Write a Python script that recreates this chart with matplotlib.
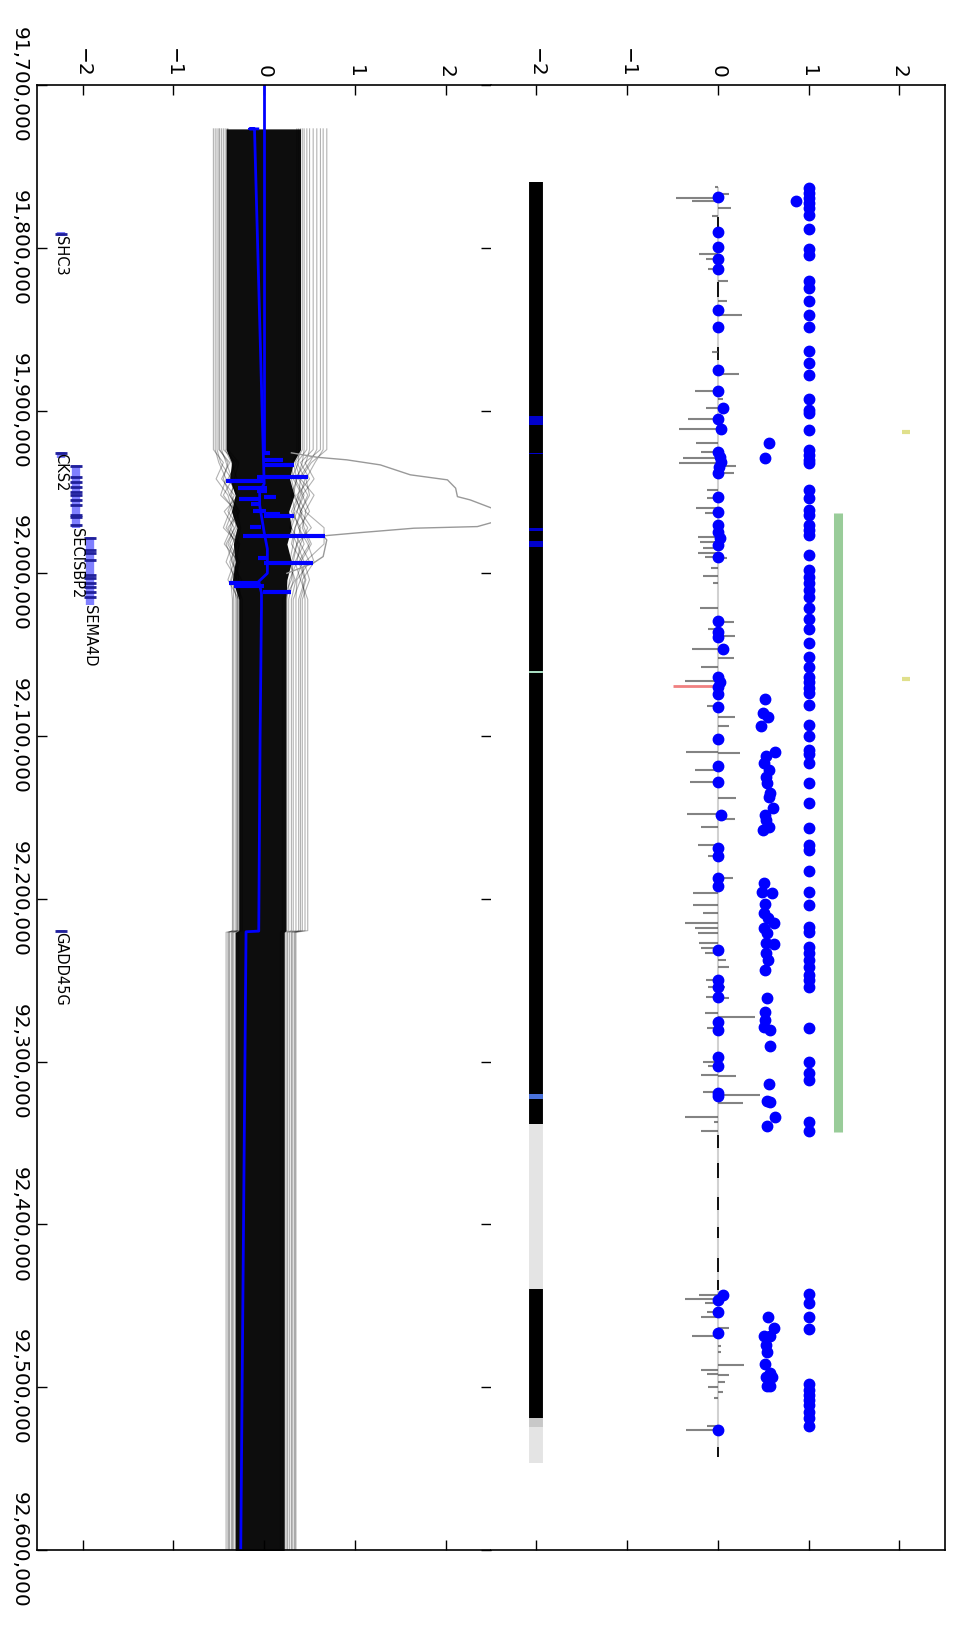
import matplotlib
matplotlib.use("Agg")
import matplotlib.pyplot as plt
from matplotlib.ticker import FuncFormatter

# axis ticks
pos_ticks = [91700000, 91800000, 91900000, 92000000, 92100000,
             92200000, 92300000, 92400000, 92500000, 92600000]
val_ticks = [-2, -1, 0, 1, 2]

# ---------------- left panel: sampled trajectories ----------------
traj_knots = [91727000, 91924000, 91932000, 91942000, 91952000, 91962000, 91972000,
              91982000, 91993000, 92004000, 92016000, 92219500, 92220500, 92610000]
# dense core of the bundle
core_lo = [-0.42, -0.42, -0.36, -0.38, -0.32, -0.36, -0.30, -0.34, -0.32, -0.35,
           -0.28, -0.28, -0.32, -0.32]
core_hi = [0.40, 0.40, 0.32, 0.28, 0.33, 0.27, 0.30, 0.25, 0.30, 0.25,
           0.24, 0.24, 0.22, 0.22]
# fringe trajectories: upper level, 8 values in the wiggle, middle level, lower level
fringe = [
    [-0.56, -0.45, -0.53, -0.40, -0.35, -0.42, -0.30, -0.38, -0.33, -0.34, -0.40],
    [-0.54, -0.50, -0.42, -0.48, -0.30, -0.36, -0.44, -0.28, -0.36, -0.30, -0.42],
    [-0.50, -0.38, -0.47, -0.33, -0.40, -0.28, -0.35, -0.42, -0.30, -0.32, -0.38],
    [-0.47, -0.42, -0.35, -0.45, -0.32, -0.38, -0.27, -0.33, -0.40, -0.28, -0.36],
    [-0.45, -0.30, -0.40, -0.28, -0.44, -0.33, -0.40, -0.30, -0.28, -0.26, -0.34],
    [-0.43, -0.36, -0.30, -0.38, -0.27, -0.40, -0.32, -0.36, -0.25, -0.30, -0.32],
    [-0.41, -0.33, -0.38, -0.30, -0.35, -0.30, -0.38, -0.27, -0.32, -0.24, -0.30],
    [-0.40, -0.28, -0.33, -0.36, -0.30, -0.26, -0.30, -0.34, -0.28, -0.27, -0.28],
    [-0.52, -0.48, -0.36, -0.30, -0.38, -0.45, -0.28, -0.30, -0.37, -0.35, -0.39],
    [-0.49, -0.40, -0.45, -0.38, -0.28, -0.32, -0.42, -0.35, -0.30, -0.29, -0.35],
    [0.69, 0.52, 0.40, 0.55, 0.45, 0.66, 0.66, 0.45, 0.40, 0.48, 0.35],
    [0.62, 0.45, 0.55, 0.42, 0.50, 0.38, 0.48, 0.55, 0.42, 0.45, 0.33],
    [0.58, 0.50, 0.38, 0.48, 0.40, 0.52, 0.36, 0.44, 0.50, 0.42, 0.31],
    [0.54, 0.40, 0.50, 0.36, 0.46, 0.42, 0.50, 0.38, 0.45, 0.38, 0.30],
    [0.50, 0.46, 0.34, 0.44, 0.36, 0.48, 0.40, 0.50, 0.36, 0.35, 0.28],
    [0.47, 0.36, 0.45, 0.40, 0.32, 0.38, 0.44, 0.34, 0.40, 0.32, 0.26],
    [0.44, 0.42, 0.36, 0.32, 0.42, 0.34, 0.30, 0.42, 0.35, 0.30, 0.25],
    [0.42, 0.34, 0.40, 0.38, 0.30, 0.40, 0.36, 0.30, 0.32, 0.27, 0.23],
    [0.40, 0.30, 0.32, 0.42, 0.36, 0.30, 0.40, 0.36, 0.28, 0.25, 0.22],
    [0.38, 0.38, 0.30, 0.34, 0.40, 0.34, 0.32, 0.28, 0.34, 0.22, 0.20],
    [0.65, 0.56, 0.46, 0.50, 0.40, 0.44, 0.52, 0.40, 0.46, 0.40, 0.34],
    [0.36, 0.32, 0.36, 0.30, 0.34, 0.28, 0.36, 0.32, 0.30, 0.20, 0.18],
]
# one trajectory that leaves the bundle
exc_pos = [91926000, 91928700, 91930300, 91933400, 91939500, 91942600, 91947700,
           91952900, 91954900, 91960000, 91964000, 91968800, 91971300, 91972300,
           91975000, 91977000, 91979500, 91989700, 91993800, 92000000]
exc_val = [0.30, 0.58, 0.91, 1.28, 1.61, 2.02, 2.11, 2.13, 2.27, 2.51, 2.70, 2.51,
           2.35, 1.65, 1.06, 0.65, 0.69, 0.65, 0.54, 0.25]

# blue mean
mean0_pos = [91700000, 91926000]
mean0_val = [0.0, 0.0]
mean_pos = [91727000, 91727000, 91727000, 91926000, 91945000, 91950000, 91958000,
            91975000, 91985000, 92000000, 92005000, 92012000, 92020000, 92100000,
            92219800, 92220200, 92610000]
mean_val = [-0.07, -0.16, -0.107, -0.01, 0.0, -0.05, -0.05, 0.0, 0.035, 0.035,
            -0.06, -0.03, -0.03, -0.045, -0.06, -0.2, -0.26]
spike_pos = [91925800, 91930700, 91933600, 91940600, 91943000, 91947700, 91949400,
             91953300, 91954500, 91957300, 91961700, 91963500, 91964700, 91971700,
             91977000, 91990900, 91993400, 92005700, 92007700, 92011200]
spike_lo = [-0.015, 0.0, 0.0, -0.082, -0.42, -0.29, -0.082, 0.0, -0.28, -0.144,
            -0.126, 0.0, 0.0, -0.155, -0.237, -0.07, 0.0, -0.384, -0.33, -0.015]
spike_hi = [0.059, 0.207, 0.324, 0.483, 0.0, 0.03, 0.03, 0.125, -0.052, -0.033,
            0.015, 0.17, 0.324, -0.033, 0.668, 0.022, 0.539, -0.052, 0.0, 0.30]

# genes
gene_names = ["SHC3", "CKS2", "SECISBP2", "SEMA4D", "GADD45G"]
gene_start = [91790500, 91925600, 91933400, 91977500, 92219000]
gene_end = [91793000, 91929300, 91972100, 92019400, 92220500]
gene_level = [-2.24, -2.24, -2.07, -1.92, -2.24]
gene_label_pos = [91793000, 91926000, 91972100, 92019400, 92220500]
exons = [
    [91791500],
    [91926000],
    [91934000, 91940600, 91943700, 91946700, 91949800, 91951800, 91954900,
     91958000, 91964100, 91965200, 91970300],
    [91978100, 91985600, 91987700, 91991800, 92001000, 92003000, 92006100,
     92008200, 92011300, 92014300],
    [92219500],
]

# ---------------- right panel ----------------
band_start = [91759400, 92338300, 92439900, 92518800, 92524700,
              91903400, 91925800, 91971900, 91980000, 92059800, 92320100]
band_end = [92338300, 92439900, 92518800, 92524700, 92546400,
            91909200, 91927000, 91973800, 91983800, 92061400, 92323000]
band_color = ["black", "#e4e4e4", "black", "#c8c8c8", "#e4e4e4",
              "#0000cc", "#0000cc", "#0000cc", "#0000cc", "#a8dcc0", "#4a72dc"]
band_level = -2.0

hi_pos = [91763400, 91766500, 91769600, 91772600, 91775700, 91780200, 91788600,
          91800700, 91804400, 91820200, 91824800, 91832600, 91841200, 91848400,
          91863500, 91870600, 91878100, 91893000, 91899600, 91901600, 91911900,
          91924200, 91927300, 91930300, 91932400, 91948800, 91953900, 91961100,
          91964100, 91970300, 91973300, 91976400, 91988700, 91997900, 92002000,
          92006100, 92010200, 92014300, 92021500, 92028200, 92034400, 92042600,
          92051600, 92057300, 92063900, 92066600, 92070600, 92073700, 92080900,
          92093200, 92099900, 92108500, 92111000, 92116700, 92129000, 92141300,
          92156600, 92166900, 92170000, 92182700, 92195600, 92203800, 92217100,
          92220200, 92229400, 92233400, 92237500, 92241700, 92246800, 92249800,
          92253900, 92279500, 92300000, 92307200, 92311300, 92336900, 92342400,
          92442900, 92448500, 92456700, 92464100, 92498200, 92501700, 92504800,
          92507900, 92511000, 92515100, 92519100, 92523900, 91771000]
hi_val = [1.0] * 89 + [0.86]

mid_pos = [91920100, 91929300, 92077400, 92086000, 92088400, 92093800, 92109600,
           92112200, 92116300, 92120800, 92124900, 92128600, 92135100, 92137600,
           92144300, 92148500, 92151500, 92155600, 92157700, 92190400, 92196000,
           92196200, 92203100, 92208900, 92211900, 92215000, 92218100, 92221100,
           92227700, 92227300, 92233000, 92237500, 92243700, 92261100, 92269300,
           92274400, 92278500, 92280600, 92290200, 92313700, 92324000, 92324500,
           92333800, 92339300, 92456700, 92463500, 92468600, 92468600, 92474100,
           92478200, 92485800, 92491100, 92493600, 92493600, 92499300, 92499300]
mid_val = [0.559, 0.52, 0.515, 0.493, 0.551, 0.478, 0.625, 0.529, 0.504, 0.559,
           0.533, 0.540, 0.577, 0.559, 0.603, 0.515, 0.529, 0.566, 0.496, 0.511,
           0.485, 0.596, 0.522, 0.504, 0.551, 0.614, 0.504, 0.540, 0.614, 0.529,
           0.529, 0.551, 0.515, 0.540, 0.522, 0.515, 0.504, 0.577, 0.577, 0.566,
           0.54, 0.577, 0.625, 0.54, 0.551, 0.614, 0.504, 0.577, 0.529, 0.54,
           0.522, 0.577, 0.529, 0.596, 0.54, 0.577]

zero_pos = [91768600, 91790100, 91799700, 91807000, 91813200, 91838200, 91848400,
            91875000, 91887800, 91898600, 91905300, 91911500, 91925200, 91928300,
            91931400, 91934500, 91938100, 91952900, 91962100, 91970300, 91974400,
            91978500, 91982600, 91989800, 92029100, 92035800, 92038900, 92046600,
            92063900, 92066500, 92070000, 92074100, 92082300, 92101900, 92118200,
            92128000, 92148500, 92168900, 92173600, 92187300, 92192100, 92231400,
            92249800, 92253900, 92260100, 92275400, 92280500, 92297300, 92302700,
            92319100, 92321000, 92443400, 92446400, 92453600, 92466500, 92526300]
zero_val = [0, 0, 0, 0, 0, 0, 0, 0, 0, 0.06, 0, 0.03, 0, 0.02, 0.03, 0.01, 0, 0, 0,
            0, 0, 0.02, 0, 0, 0, 0, 0, 0.06, 0, 0.02, 0, 0, 0, 0, 0, 0, 0.04, 0, 0,
            0, 0, 0, 0, 0, 0, 0, 0, 0, 0, 0, 0, 0.06, 0, 0, 0, 0]

stem_pos = [91763000, 91766900, 91769600, 91771600, 91775700, 91780400, 91804000,
            91807000, 91813200, 91820400, 91832600, 91841400, 91863800, 91877500,
            91887800, 91893000, 91898600, 91905300, 91911100, 91920100, 91925200,
            91929300, 91932400, 91934000, 91938100, 91948800, 91953500, 91960000,
            91963100, 91977500, 91980500, 91984600, 91987700, 91990100, 91990600,
            91996900, 92001600, 92006100, 92021500, 92029700, 92034400, 92038500,
            92046600, 92052200, 92057300, 92065900, 92081500, 92088400, 92093800,
            92109900, 92110400, 92120800, 92128000, 92138200, 92147800, 92151100,
            92156000, 92166900, 92173600, 92187300, 92196200, 92203800, 92208900,
            92215000, 92218100, 92221100, 92227300, 92230400, 92233400, 92237500,
            92241700, 92249800, 92253900, 92254400, 92260100, 92260600, 92269900,
            92272400, 92279500, 92300000, 92302700, 92308200, 92308700, 92318500,
            92320500, 92325200, 92333800, 92336900, 92342400, 92443400, 92443900,
            92446000, 92448100, 92453600, 92456700, 92463800, 92468600, 92474700,
            92478200, 92486400, 92489500, 92491900, 92492400, 92496600, 92500100,
            92502700, 92506800, 92523900, 92526300]
stem_val = [-0.03, 0.127, -0.456, -0.29, 0.145, -0.069, -0.209, -0.135, -0.113,
            0.116, 0.097, 0.264, -0.069, 0.234, -0.246, 0.061, -0.135, -0.334,
            -0.43, -0.235, -0.187, -0.38, -0.43, 0.2, 0.183, -0.124, -0.124,
            -0.235, -0.143, -0.216, -0.198, -0.161, -0.216, -0.143, 0.097, -0.076,
            -0.161, -0.05, -0.198, 0.183, -0.106, 0.19, -0.29, 0.183, -0.187,
            -0.364, -0.124, 0.19, 0.12, -0.349, 0.25, -0.246, -0.305, 0.2, -0.342,
            0.19, -0.18, -0.22, -0.106, 0.17, -0.272, -0.275, -0.161, -0.357,
            -0.246, -0.216, -0.209, -0.18, -0.143, 0.09, 0.12, -0.135, -0.106,
            0.075, -0.135, 0.12, -0.143, 0.411, -0.124, -0.161, -0.106, -0.18, 0.2,
            -0.161, 0.47, 0.282, -0.357, -0.04, -0.187, -0.205, 0.04, -0.364,
            -0.143, -0.124, -0.187, 0.12, -0.29, 0.04, 0.04, 0.289, -0.187, -0.124,
            0.127, 0.08, -0.113, 0.06, -0.04, -0.124, -0.35]
red_pos = [92069000]
red_val = [-0.493]

zero_line = [91762400, 92542700]
dash_start = [91780900, 91820800, 91860700, 92345000, 92362500, 92383000, 92401400,
              92420800, 92434100, 92536600]
dash_end = [91787000, 91830000, 91868900, 92353200, 92371700, 92391100, 92408500,
            92429000, 92440300, 92543100]

green_span = [91963100, 92343000]
green_level = 1.32
yellow_pos = [91913200, 92064900]
yellow_span = [2.03, 2.12]


fig = plt.figure(figsize=(9.56, 16.27), dpi=100)
axl = fig.add_axes([0.0391, 0.0473, 0.4745, 0.9005])
axr = fig.add_axes([0.5136, 0.0473, 0.4745, 0.9005])

for ax in (axl, axr):
    ax.set_xlim(-2.5, 2.5)
    ax.set_ylim(92600000, 91700000)
    ax.set_xticks(val_ticks)
    ax.set_yticks(pos_ticks)
    ax.tick_params(axis='x', direction='in', top=True, bottom=True,
                   labeltop=True, labelbottom=False, length=7.5, width=1,
                   labelsize=14.5, pad=5, labelrotation=-90)
    for s in ax.spines.values():
        s.set_linewidth(1.2)

axl.tick_params(axis='y', direction='in', left=True, right=True,
                labelleft=True, labelright=False, length=7.5, width=1,
                labelsize=14.5, pad=6, labelrotation=-90)
axl.yaxis.set_major_formatter(FuncFormatter(lambda v, p: "{:,.0f}".format(v)))
plt.setp(axl.get_yticklabels(), va='center')
axl.spines['right'].set_visible(False)
axr.spines['left'].set_visible(False)
axr.tick_params(axis='y', left=False, right=False, labelleft=False)

# left panel
axl.fill_betweenx(traj_knots, core_lo, core_hi, color='k', alpha=0.95, lw=0)
for row in fringe:
    xs = [row[0], row[0]] + row[1:9] + [row[9], row[9], row[10], row[10]]
    axl.plot(xs, traj_knots, color='k', alpha=0.3, lw=0.8)
axl.plot(exc_val, exc_pos, color='0.6', lw=1.0)
axl.plot(mean0_val, mean0_pos, color='b', lw=2)
axl.plot(mean_val, mean_pos, color='b', lw=2)
axl.hlines(spike_pos, spike_lo, spike_hi, color='b', lw=3)

for name, st, en, lev, lp, ex in zip(gene_names, gene_start, gene_end,
                                     gene_level, gene_label_pos, exons):
    axl.plot([lev, lev], [st, en], color='#8080ff', lw=6, solid_capstyle='butt')
    axl.plot([lev] * len(ex), ex, '_', color='#20209a', ms=8, mew=2)
    axl.text(lev, lp, name, rotation=-90, ha='center', va='top', fontsize=10.5)

# right panel
axr.vlines(0, zero_line[0], zero_line[1], color='0.82', lw=1.5)
axr.vlines([0] * len(dash_start), dash_start, dash_end, color='k', lw=1.3)
axr.hlines(stem_pos, 0, stem_val, color='0.35', alpha=0.75, lw=1.5)
axr.hlines(red_pos, 0, red_val, color='#f08080', lw=2)
axr.vlines([band_level] * len(band_start), band_start, band_end,
           colors=band_color, lw=10)
axr.vlines(green_level, green_span[0], green_span[1], color='#99cc99', lw=6.5)
axr.hlines(yellow_pos, yellow_span[0], yellow_span[1], color='#e0e08c', lw=3)
axr.plot(hi_val, hi_pos, 'o', color='b', mec='b', ms=7.5)
axr.plot(mid_val, mid_pos, 'o', color='b', mec='b', ms=7.5)
axr.plot(zero_val, zero_pos, 'o', color='b', mec='b', ms=7.5)

fig.savefig("out.png", dpi=100)
